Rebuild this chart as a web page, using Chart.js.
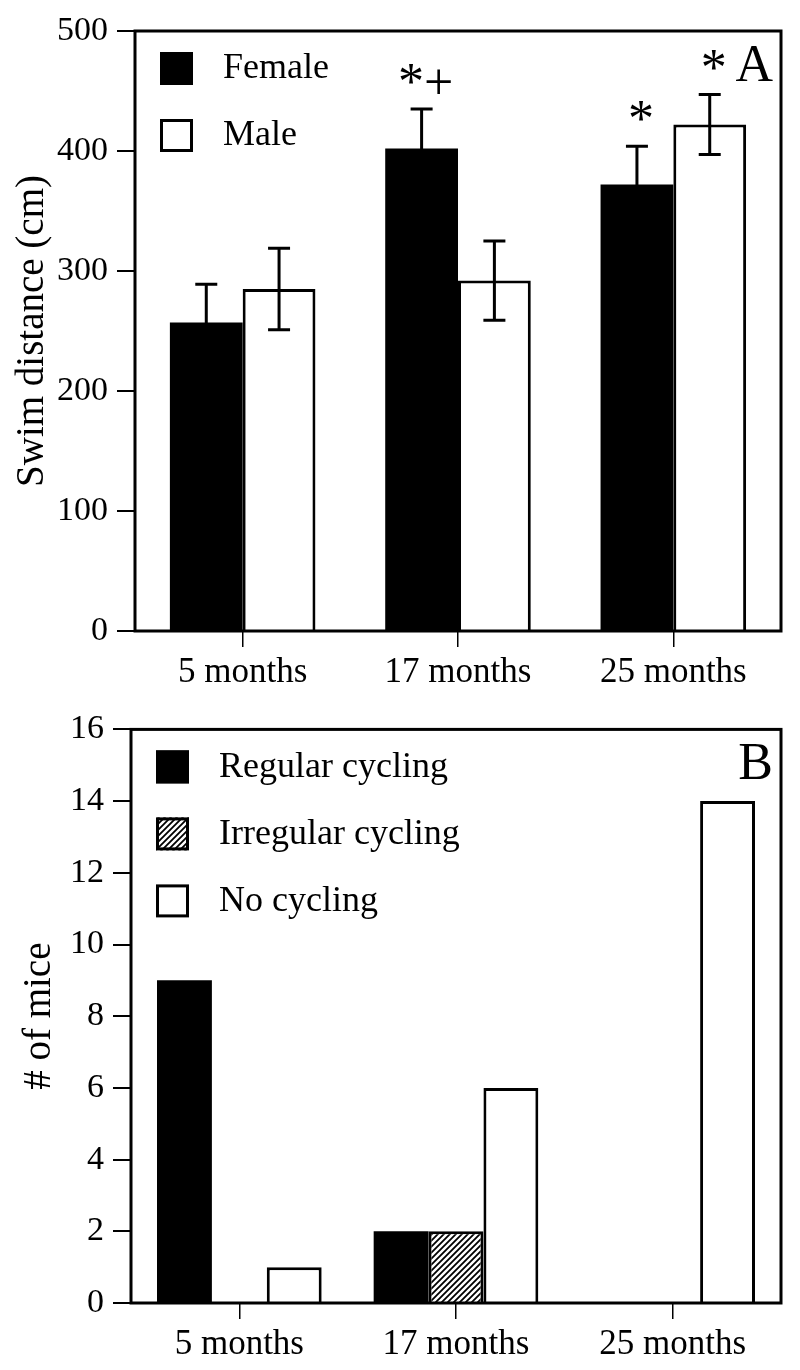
<!DOCTYPE html>
<html>
<head>
<meta charset="utf-8">
<script src="https://cdn.jsdelivr.net/npm/chart.js@4"></script>
<style>
  body { margin: 0; background: #fff; }
  .panel { position: absolute; left: 0; width: 800px; }
  #panelA { top: 0; height: 700px; }
  #panelB { top: 700px; height: 670px; }
</style>
</head>
<body>
<div class="panel" id="panelA"><canvas id="chartA"></canvas></div>
<div class="panel" id="panelB"><canvas id="chartB"></canvas></div>
<script>
const ages = ['5 months', '17 months', '25 months'];

// Panel A: swim distance (cm)
const femaleSwim = [257, 402, 372];
const femaleSwimErr = [32, 33, 32];
const maleSwim = [285, 292, 422];
const maleSwimErr = [34, 33, 25];
const femaleMarks = ['', '*+', '*'];
const maleMarks = ['', '', '*'];
const swimTicks = [0, 100, 200, 300, 400, 500];

// Panel B: number of mice per cycling status
const regularCycling = [9, 2, 0];
const irregularCycling = [0, 2, 0];
const noCycling = [1, 6, 14];
const miceTicks = [0, 2, 4, 6, 8, 10, 12, 14, 16];

const SERIF = "'Liberation Serif', 'Times New Roman', serif";
Chart.defaults.font.family = SERIF;
Chart.defaults.color = '#000';
Chart.defaults.animation = false;

function makeHatch(ctx) {
    const c = document.createElement('canvas');
    c.width = 6; c.height = 6;
    const g = c.getContext('2d');
    g.fillStyle = '#fff';
    g.fillRect(0, 0, 6, 6);
    g.strokeStyle = '#000';
    g.lineWidth = 1.8;
    g.beginPath();
    g.moveTo(-1, 7); g.lineTo(7, -1);
    g.moveTo(-4, 4); g.lineTo(4, -4);
    g.moveTo(2, 10); g.lineTo(10, 2);
    g.stroke();
    return ctx.createPattern(c, 'repeat');
}

// frame, legend, panel letter, error bars and significance marks
const panelDecor = {
    id: 'panelDecor',
    afterDatasetsDraw(chart, args, opts) {
        const ctx = chart.ctx;
        const y = chart.scales.y;
        ctx.save();
        chart.data.datasets.forEach((ds, di) => {
            const meta = chart.getDatasetMeta(di);
            if (!ds.errors) return;
            meta.data.forEach((bar, i) => {
                const v = ds.data[i], e = ds.errors[i];
                const yTop = y.getPixelForValue(v + e);
                const yBot = y.getPixelForValue(v - e);
                ctx.strokeStyle = '#000';
                ctx.lineWidth = 3;
                ctx.beginPath();
                ctx.moveTo(bar.x, yTop); ctx.lineTo(bar.x, yBot);
                ctx.moveTo(bar.x - 11, yTop); ctx.lineTo(bar.x + 11, yTop);
                ctx.moveTo(bar.x - 11, yBot); ctx.lineTo(bar.x + 11, yBot);
                ctx.stroke();
                const mark = ds.marks ? ds.marks[i] : '';
                if (mark) {
                    ctx.fillStyle = '#000';
                    ctx.font = '52px ' + SERIF;
                    ctx.textAlign = 'center';
                    ctx.textBaseline = 'alphabetic';
                    ctx.fillText(mark, bar.x + 4, yTop - 10);
                }
            });
        });
        ctx.restore();
    },
    afterDraw(chart, args, opts) {
        const ctx = chart.ctx;
        const a = chart.chartArea;
        ctx.save();
        ctx.strokeStyle = '#000';
        ctx.lineWidth = 3;
        ctx.strokeRect(a.left, a.top, a.right - a.left, a.bottom - a.top);

        // legend inside plot area
        ctx.font = '36px ' + SERIF;
        ctx.textAlign = 'left';
        ctx.textBaseline = 'middle';
        chart.data.datasets.forEach((ds, di) => {
            const cy = a.top + 37 + di * 67;
            const sx = a.left + 25;
            ctx.fillStyle = ds.backgroundColor;
            ctx.fillRect(sx, cy - 16, 33, 33);
            ctx.lineWidth = 3;
            ctx.strokeRect(sx + 1.5, cy - 14.5, 30, 30);
            ctx.fillStyle = '#000';
            ctx.fillText(ds.label, sx + 63, cy + 1);
        });

        ctx.font = '52px ' + SERIF;
        ctx.textAlign = 'right';
        ctx.textBaseline = 'alphabetic';
        ctx.fillText(opts.letter, a.right - 8, a.top + 50);
        ctx.restore();
    }
};

function buildOptions(cfg) {
    return {
        responsive: true,
        maintainAspectRatio: false,
        layout: { padding: { top: cfg.padTop, right: 19, left: 0, bottom: 0 } },
        plugins: {
            legend: { display: false },
            tooltip: { enabled: false },
            panelDecor: { letter: cfg.letter }
        },
        scales: {
            x: {
                offset: true,
                grid: { offset: false, drawOnChartArea: false, drawTicks: true, tickLength: 16, color: '#000', lineWidth: 1.5 },
                border: { display: false },
                ticks: { font: { size: 35 }, padding: 5, color: '#000', maxRotation: 0 },
                afterFit: s => { s.height = cfg.xHeight; }
            },
            y: {
                min: cfg.ticks[0],
                max: cfg.ticks[cfg.ticks.length - 1],
                afterBuildTicks: s => { s.ticks = cfg.ticks.map(v => ({ value: v })); },
                grid: { drawOnChartArea: false, drawTicks: true, tickLength: 18, color: '#000', lineWidth: 2 },
                border: { display: false },
                ticks: { font: { size: 34 }, padding: 9, color: '#000' },
                title: { display: true, text: cfg.title, font: { size: 39 }, color: '#000', padding: { top: cfg.titlePad, bottom: 0 } },
                afterFit: s => { s.width = cfg.yWidth; }
            }
        }
    };
}

new Chart(document.getElementById('chartA'), {
    type: 'bar',
    data: {
        labels: ages,
        datasets: [
            { label: 'Female', data: femaleSwim, errors: femaleSwimErr, marks: femaleMarks,
              backgroundColor: '#000', borderColor: '#000', borderWidth: 0,
              categoryPercentage: 0.676, barPercentage: 1 },
            { label: 'Male', data: maleSwim, errors: maleSwimErr, marks: maleMarks,
              backgroundColor: '#fff', borderColor: '#000', borderWidth: 3,
              categoryPercentage: 0.676, barPercentage: 1 }
        ]
    },
    options: buildOptions({ padTop: 31, xHeight: 69, yWidth: 135, ticks: swimTicks, title: 'Swim distance (cm)', titlePad: 9, letter: 'A' }),
    plugins: [panelDecor]
});

const ctxB = document.getElementById('chartB').getContext('2d');
new Chart(ctxB, {
    type: 'bar',
    data: {
        labels: ages,
        datasets: [
            { label: 'Regular cycling', data: regularCycling,
              backgroundColor: '#000', borderColor: '#000', borderWidth: 0,
              categoryPercentage: 0.76, barPercentage: 1 },
            { label: 'Irregular cycling', data: irregularCycling,
              backgroundColor: makeHatch(ctxB), borderColor: '#000', borderWidth: 3,
              categoryPercentage: 0.76, barPercentage: 1 },
            { label: 'No cycling', data: noCycling,
              backgroundColor: '#fff', borderColor: '#000', borderWidth: 3,
              categoryPercentage: 0.76, barPercentage: 1 }
        ]
    },
    options: buildOptions({ padTop: 16, xHeight: 67, yWidth: 131, ticks: miceTicks, title: '# of mice', titlePad: 16, letter: 'B' }),
    plugins: [panelDecor]
});
</script>
</body>
</html>
